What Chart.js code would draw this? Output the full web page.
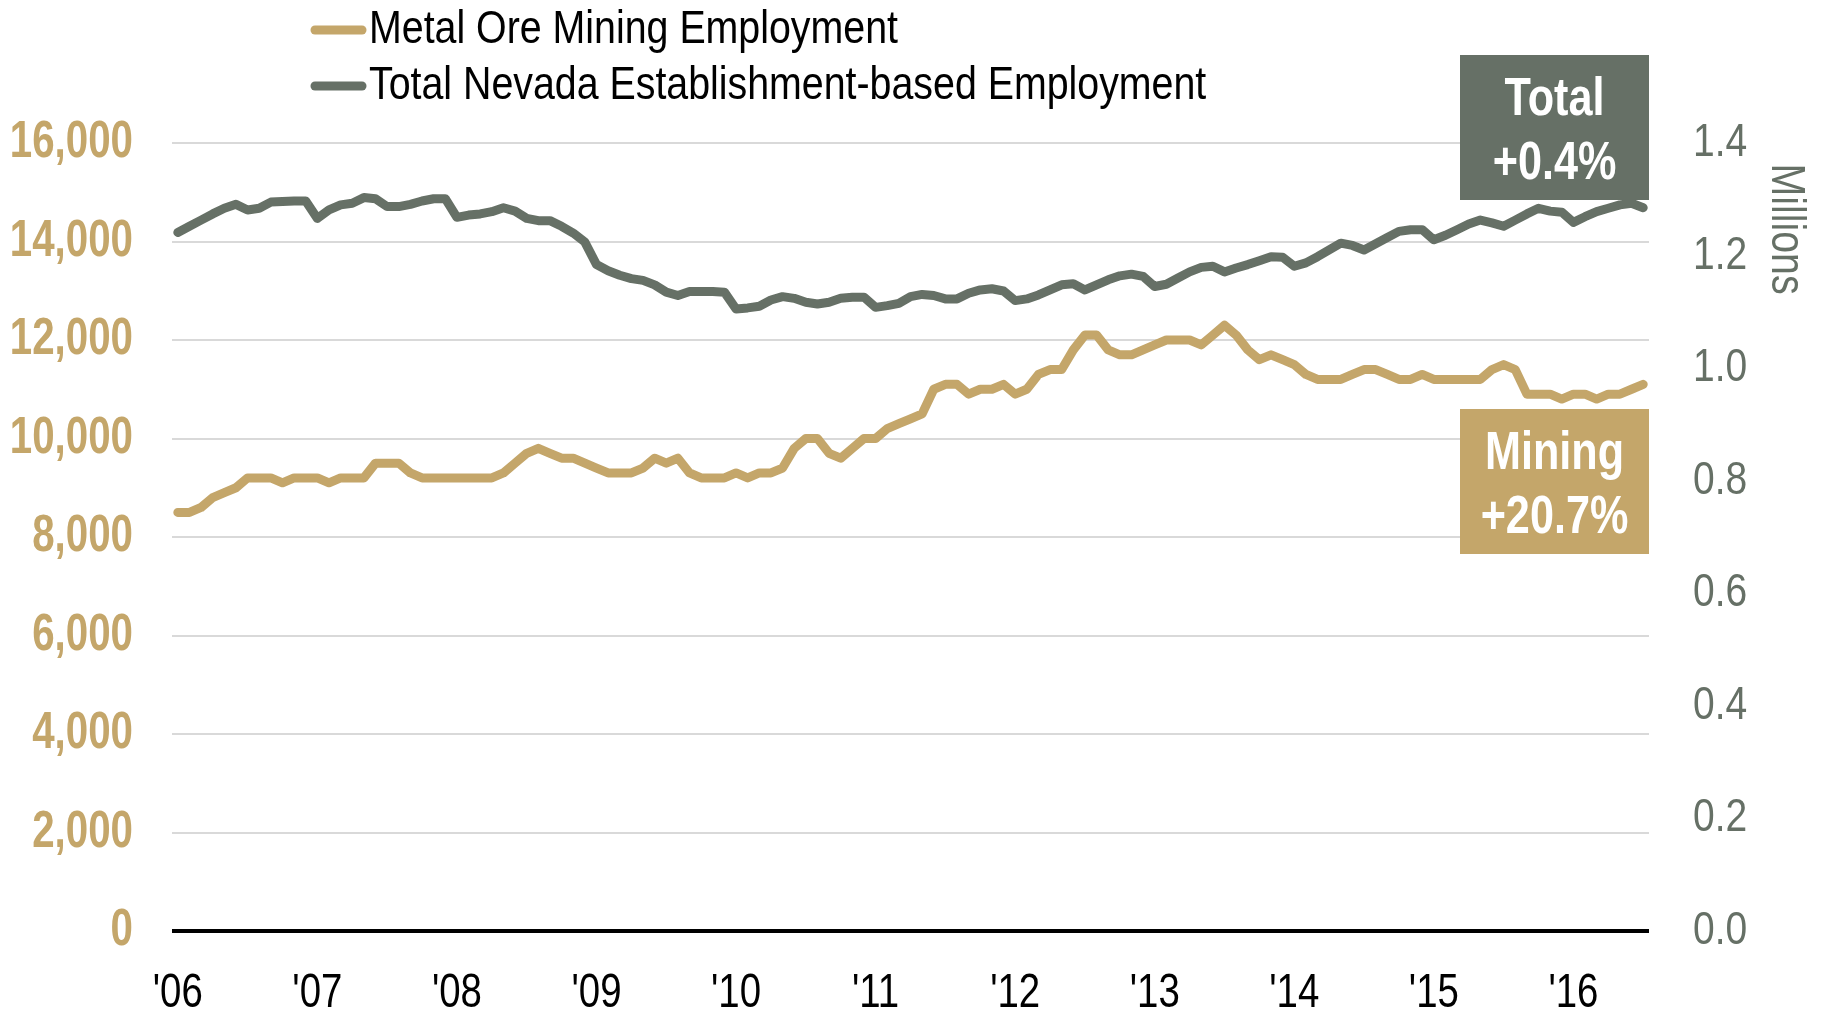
<!doctype html>
<html lang="en">
<head>
<meta charset="utf-8">
<title>Nevada Metal Ore Mining vs Total Employment</title>
<script src="https://cdn.jsdelivr.net/npm/chart.js"></script>
<style>
  html, body { margin: 0; padding: 0; background: #fff; }
  canvas { display: block; }
</style>
</head>
<body>
<canvas id="empChart" width="1821" height="1010"></canvas>
<script>
// monthly series, Jan 2006 .. Jul 2016
const yearLabels = ["'06", "'07", "'08", "'09", "'10", "'11", "'12", "'13", "'14", "'15", "'16"];

// Metal ore mining employment (jobs)
const mining = [
  8500, 8500, 8600, 8800, 8900, 9000, 9200, 9200, 9200, 9100, 9200, 9200,
  9200, 9100, 9200, 9200, 9200, 9500, 9500, 9500, 9300, 9200, 9200, 9200,
  9200, 9200, 9200, 9200, 9300, 9500, 9700, 9800, 9700, 9600, 9600, 9500,
  9400, 9300, 9300, 9300, 9400, 9600, 9500, 9600, 9300, 9200, 9200, 9200,
  9300, 9200, 9300, 9300, 9400, 9800, 10000, 10000, 9700, 9600, 9800, 10000,
  10000, 10200, 10300, 10400, 10500, 11000, 11100, 11100, 10900, 11000, 11000, 11100,
  10900, 11000, 11300, 11400, 11400, 11800, 12100, 12100, 11800, 11700, 11700, 11800,
  11900, 12000, 12000, 12000, 11900, 12100, 12300, 12100, 11800, 11600, 11700, 11600,
  11500, 11300, 11200, 11200, 11200, 11300, 11400, 11400, 11300, 11200, 11200, 11300,
  11200, 11200, 11200, 11200, 11200, 11400, 11500, 11400, 10900, 10900, 10900, 10800,
  10900, 10900, 10800, 10900, 10900, 11000, 11100
];

// Total Nevada establishment-based employment (millions)
const total = [
  1.241, 1.252, 1.263, 1.274, 1.284, 1.291, 1.281, 1.284, 1.295, 1.296, 1.297, 1.297,
  1.266, 1.281, 1.290, 1.293, 1.303, 1.301, 1.287, 1.287, 1.291, 1.297, 1.301, 1.301,
  1.268, 1.272, 1.274, 1.278, 1.285, 1.279, 1.266, 1.262, 1.262, 1.252, 1.240, 1.224,
  1.184, 1.173, 1.165, 1.159, 1.156, 1.148, 1.135, 1.129, 1.136, 1.136, 1.136, 1.135,
  1.105, 1.107, 1.110, 1.121, 1.127, 1.124, 1.117, 1.114, 1.117, 1.124, 1.126, 1.126,
  1.108, 1.111, 1.115, 1.127, 1.131, 1.129, 1.123, 1.123, 1.133, 1.139, 1.141, 1.137,
  1.120, 1.123, 1.130, 1.139, 1.148, 1.150, 1.139, 1.148, 1.157, 1.164, 1.167, 1.163,
  1.145, 1.149, 1.160, 1.171, 1.179, 1.181, 1.171, 1.178, 1.184, 1.191, 1.198, 1.197,
  1.181, 1.187, 1.198, 1.210, 1.222, 1.218, 1.210, 1.221, 1.232, 1.243, 1.246, 1.246,
  1.228, 1.236, 1.246, 1.256, 1.263, 1.258, 1.252, 1.263, 1.274, 1.284, 1.279, 1.277,
  1.259, 1.269, 1.278, 1.284, 1.290, 1.293, 1.285
];

const totalTag = ['Total', '+0.4%'];
const miningTag = ['Mining', '+20.7%'];

const GOLD = '#c4a66a';
const SLATE = '#667066';
const FONT = "'Liberation Sans', Arial, sans-serif";

const fmtLeft = (v) => v.toLocaleString('en-US');
const fmtRight = (v) => v.toFixed(1);
const fmtYear = (v) => yearLabels[Math.round(v / 12)];

// no narrow face is installed, so squeeze regular glyphs horizontally
function narrowText(ctx, text, x, y, align, sx) {
  ctx.save();
  ctx.translate(x, y);
  ctx.scale(sx, 1);
  ctx.textAlign = align;
  ctx.fillText(text, 0, 0);
  ctx.restore();
}

// tick labels, boxes, legend and the "Millions" caption
const overlay = {
  id: 'overlay',
  afterDatasetsDraw(chart) {
    const { ctx, chartArea } = chart;
    const w = 189, h = 145;
    const x = chartArea.right - w;
    const tags = [
      { top: chartArea.top - 88, fill: SLATE, lines: totalTag },
      { top: chartArea.top + 266, fill: GOLD, lines: miningTag }
    ];
    ctx.save();
    ctx.font = `bold 54px ${FONT}`;
    ctx.textBaseline = 'middle';
    tags.forEach(t => {
      ctx.fillStyle = t.fill;
      ctx.fillRect(x, t.top, w, h);
      ctx.fillStyle = '#fff';
      narrowText(ctx, t.lines[0], x + w / 2, t.top + 45, 'center', 0.8);
      narrowText(ctx, t.lines[1], x + w / 2, t.top + 109, 'center', 0.8);
    });
    ctx.restore();
  },
  afterDraw(chart) {
    const { ctx, chartArea, scales } = chart;
    ctx.save();
    ctx.textBaseline = 'middle';

    // left axis
    ctx.font = `bold 51px ${FONT}`;
    ctx.fillStyle = GOLD;
    scales.y.ticks.forEach(t => {
      narrowText(ctx, fmtLeft(t.value), chartArea.left - 39, scales.y.getPixelForValue(t.value), 'right', 0.79);
    });

    // right axis
    ctx.font = `47px ${FONT}`;
    ctx.fillStyle = SLATE;
    scales.y2.ticks.forEach(t => {
      narrowText(ctx, fmtRight(t.value), chartArea.right + 44, scales.y2.getPixelForValue(t.value), 'left', 0.83);
    });

    // years
    ctx.font = `48px ${FONT}`;
    ctx.fillStyle = '#000';
    scales.x.ticks.forEach(t => {
      narrowText(ctx, fmtYear(t.value), scales.x.getPixelForValue(t.value), chartArea.bottom + 63, 'center', 0.8);
    });

    // legend, one row per series
    ctx.font = `46px ${FONT}`;
    ctx.lineCap = 'round';
    ctx.lineWidth = 9;
    chart.data.datasets.forEach((ds, i) => {
      const y = 30 + i * 56;
      ctx.strokeStyle = ds.borderColor;
      ctx.beginPath();
      ctx.moveTo(315, y);
      ctx.lineTo(362, y);
      ctx.stroke();
      ctx.fillStyle = '#000';
      narrowText(ctx, ds.label, 369, y, 'left', 0.855);
    });

    // right axis caption
    ctx.translate(chartArea.right + 136, chartArea.top + 86);
    ctx.rotate(Math.PI / 2);
    ctx.font = `48px ${FONT}`;
    ctx.fillStyle = SLATE;
    narrowText(ctx, 'Millions', 0, 0, 'center', 0.82);
    ctx.restore();
  }
};

new Chart(document.getElementById('empChart'), {
  type: 'line',
  data: {
    datasets: [
      {
        label: 'Metal Ore Mining Employment',
        data: mining.map((v, i) => ({ x: i, y: v })),
        yAxisID: 'y',
        borderColor: GOLD,
        borderWidth: 9,
        borderCapStyle: 'round',
        borderJoinStyle: 'round',
        pointRadius: 0,
        tension: 0
      },
      {
        label: 'Total Nevada Establishment-based Employment',
        data: total.map((v, i) => ({ x: i, y: v })),
        yAxisID: 'y2',
        borderColor: SLATE,
        borderWidth: 9,
        borderCapStyle: 'round',
        borderJoinStyle: 'round',
        pointRadius: 0,
        tension: 0
      }
    ]
  },
  options: {
    responsive: false,
    animation: false,
    layout: { padding: { top: 143 } },
    plugins: {
      legend: { display: false },
      tooltip: { enabled: false }
    },
    scales: {
      x: {
        type: 'linear',
        min: -0.5,
        max: mining.length - 0.5,
        afterBuildTicks: (scale) => {
          scale.ticks = yearLabels.map((_, i) => ({ value: i * 12 }));
        },
        afterFit: (scale) => { scale.height = 79; },
        grid: { display: false },
        border: { display: false },
        ticks: { display: false }
      },
      y: {
        position: 'left',
        min: 0,
        max: 16000,
        afterFit: (scale) => { scale.width = 172; },
        border: { display: false },
        grid: {
          drawTicks: false,
          color: (c) => c.tick.value === 0 ? '#000' : '#d9d9d9',
          lineWidth: (c) => c.tick.value === 0 ? 4 : 2
        },
        ticks: { stepSize: 2000, display: false }
      },
      y2: {
        position: 'right',
        min: 0,
        max: 1.4,
        afterFit: (scale) => { scale.width = 172; },
        border: { display: false },
        grid: { display: false, drawTicks: false },
        ticks: { stepSize: 0.2, display: false }
      }
    }
  },
  plugins: [overlay]
});
</script>
</body>
</html>
